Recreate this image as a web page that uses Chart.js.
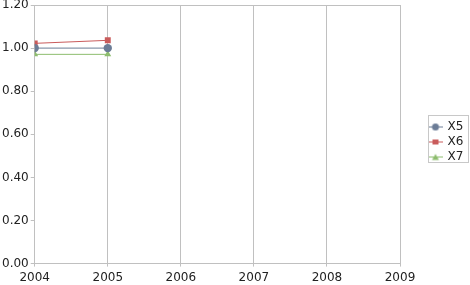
<!DOCTYPE html>
<html>
<head>
<meta charset="utf-8">
<script src="https://cdn.jsdelivr.net/npm/chart.js@4.4.1/dist/chart.umd.min.js"></script>
<style>
html,body{margin:0;padding:0;background:#fff;}
#wrap{width:470px;height:285px;position:relative;}
</style>
</head>
<body>
<div id="wrap"><canvas id="c" width="470" height="285"></canvas></div>
<script>
const years = [2004, 2005];
const seriesNames = ["X5", "X6", "X7"];
const x5 = [1.00, 1.00];
const x6 = [1.022, 1.036];
const x7 = [0.971, 0.971];
const yTicks = [0, 0.2, 0.4, 0.6, 0.8, 1.0, 1.2];
const xTicks = [2004, 2005, 2006, 2007, 2008, 2009];

const colors = ["#6b7c96", "#c95b5b", "#8dbd6e"];
const styles = ["circle", "rect", "triangle"];
const values = [x5, x6, x7];

function legendIcon(color, style) {
  const cv = document.createElement('canvas');
  cv.width = 14; cv.height = 10;
  const g = cv.getContext('2d');
  g.strokeStyle = color; g.fillStyle = color; g.lineWidth = 1;
  g.beginPath(); g.moveTo(0, 5.5); g.lineTo(14, 5.5); g.stroke();
  g.beginPath();
  if (style === 'circle') { g.arc(7, 5.5, 3.5, 0, Math.PI * 2); g.fill(); }
  else if (style === 'rect') { g.fillRect(4, 3, 6, 5); }
  else { g.moveTo(7, 2.5); g.lineTo(10.5, 8.5); g.lineTo(3.5, 8.5); g.closePath(); g.fill(); }
  return cv;
}

const datasets = seriesNames.map((n, i) => ({
  label: n,
  data: years.map((y, j) => ({ x: y, y: values[i][j] })),
  borderColor: colors[i],
  backgroundColor: colors[i],
  borderWidth: 1,
  pointStyle: styles[i],
  pointRadius: styles[i] === 'triangle' ? 4 : 4.2,
  pointBorderWidth: 0,
  tension: 0
}));

const legendPlace = {
  id: 'legendPlace',
  beforeUpdate(chart) {
    const l = chart.legend;
    if (l && !l._patched) {
      const f = l.fit.bind(l);
      l.fit = function () { f(); this.width = 70; };
      l._patched = true;
    }
  },
  afterLayout(chart) {
    const l = chart.legend;
    if (!l) return;
    l.left = 426.5; l.right = 470; l.width = 43.5;
    l.top = 0; l.bottom = 283; l.height = 283;
  },
  afterDraw(chart) {
    const ctx = chart.ctx;
    ctx.save();
    ctx.strokeStyle = '#c8c8c8';
    ctx.lineWidth = 1;
    ctx.strokeRect(428.5, 115.5, 40, 47);
    ctx.restore();
  }
};

new Chart(document.getElementById('c'), {
  type: 'line',
  data: { datasets },
  options: {
    responsive: false,
    animation: false,
    layout: { padding: { top: 0, right: 0, left: 0, bottom: -4 } },
    plugins: {
      tooltip: { enabled: false },
      legend: {
        position: 'right',
        align: 'center',
        labels: {
          font: { family: 'DejaVu Sans', size: 12 },
          color: '#222',
          usePointStyle: true,
          padding: 3,
          generateLabels(chart) {
            return chart.data.datasets.map((d, i) => ({
              text: d.label,
              pointStyle: legendIcon(colors[i], styles[i]),
              datasetIndex: i,
              hidden: false,
              lineWidth: 0,
              fontColor: '#222'
            }));
          }
        }
      }
    },
    scales: {
      x: {
        type: 'linear',
        min: 2004, max: 2009,
        afterBuildTicks(axis) { axis.ticks = xTicks.map(v => ({ value: v })); },
        ticks: {
          font: { family: 'DejaVu Sans', size: 12 },
          color: '#222',
          padding: 4,
          maxRotation: 0,
          callback: v => String(v)
        },
        grid: { color: '#c0c0c0', tickColor: '#c0c0c0', tickLength: 3, lineWidth: 1 },
        border: { color: '#c0c0c0' }
      },
      y: {
        min: 0, max: 1.2,
        afterBuildTicks(axis) { axis.ticks = yTicks.map(v => ({ value: v })); },
        afterFit(axis) { axis.paddingTop = 5; },
        ticks: {
          font: { family: 'DejaVu Sans', size: 12 },
          color: '#222',
          padding: 2,
          callback: v => Number(v).toFixed(2)
        },
        grid: {
          color: ctx => (ctx.tick && Math.abs(ctx.tick.value - 1.2) < 1e-9) ? '#c0c0c0' : 'rgba(0,0,0,0)',
          tickColor: '#c0c0c0',
          tickLength: 4,
          lineWidth: 1
        },
        border: { color: '#c0c0c0' }
      }
    }
  },
  plugins: [legendPlace]
});
</script>
</body>
</html>
